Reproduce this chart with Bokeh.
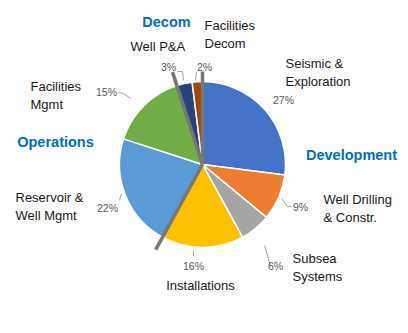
import math
from bokeh.plotting import figure
from bokeh.models import Range1d
from bokeh.embed import file_html
from bokeh.resources import INLINE
from bokeh.core.properties import value

# ---- data ----
categories = ["Seismic & Exploration", "Well Drilling & Constr.", "Subsea Systems",
              "Installations", "Reservoir & Well Mgmt", "Facilities Mgmt",
              "Well P&A", "Facilities Decom"]
label_lines = [["Seismic &", "Exploration"], ["Well Drilling", "& Constr."], ["Subsea", "Systems"],
               ["Installations"], ["Reservoir &", "Well Mgmt"], ["Facilities", "Mgmt"],
               ["Well P&A"], ["Facilities", "Decom"]]
values = [27, 9, 6, 16, 22, 15, 3, 2]
groups = ["Development", "Development", "Development", "Development",
          "Operations", "Operations", "Decom", "Decom"]
group_names = ["Development", "Operations", "Decom"]
colors = ["#4472C4", "#ED7D31", "#A5A5A5", "#FFC000", "#5B9BD5", "#70AD47", "#264478", "#9E480E"]

# ---- layout ----
W, H = 408, 333
CX, CY, R = 202, 164, 83

def P(x, y):
    return x, H - y

p = figure(width=W, height=H, output_backend="svg", toolbar_location=None,
           x_range=Range1d(0, W), y_range=Range1d(0, H), min_border=0)
p.axis.visible = False
p.grid.visible = False
p.outline_line_color = None
p.background_fill_color = "white"

total = sum(values)
cum = [0]
for v in values:
    cum.append(cum[-1] + v)

cx, cy = P(CX, CY)
starts = [math.pi / 2 - 2 * math.pi * cum[i + 1] / total for i in range(len(values))]
ends = [math.pi / 2 - 2 * math.pi * cum[i] / total for i in range(len(values))]
p.wedge(x=[cx] * len(values), y=[cy] * len(values), radius=R,
        start_angle=starts, end_angle=ends, fill_color=colors,
        line_color="white", line_width=1.5)

# group separators
bounds = []
for i in range(len(values)):
    if groups[i] != groups[i - 1]:
        bounds.append(cum[i])
sx0, sy0, sx1, sy1 = [], [], [], []
for b in bounds:
    a = math.pi / 2 - 2 * math.pi * b / total
    L = R * (1.17 if b > 50 else 1.12)
    sx0.append(cx); sy0.append(cy)
    sx1.append(cx + L * math.cos(a)); sy1.append(cy + L * math.sin(a))
p.segment(x0=sx0, y0=sy0, x1=sx1, y1=sy1, line_color="#767676", line_width=3.5, line_cap="butt")

# percent label positions (pixel coords, center)
pct_pos = [(283, 99), (300, 206), (275, 265), (193, 265), (107, 207), (106, 91), (168, 66), (204, 66)]
leaders = [None, [(281, 198), (287, 206), (291, 206)], [(264, 245), (270, 265), (272, 265)],
           [(193, 250), (193, 256)], [(119, 200), (121, 193)], [(118, 92), (123, 93), (130, 98)],
           [(177, 71), (182, 71), (183, 80)], [(196, 71), (195, 80)]]
for lp in leaders:
    if lp:
        pts = [P(x, y) for x, y in lp]
        p.line(x=[q[0] for q in pts], y=[q[1] for q in pts], line_color="#A6A6A6", line_width=1)

px = [P(x, y)[0] for x, y in pct_pos]
py = [P(x, y)[1] for x, y in pct_pos]
p.text(x=px, y=py, text=[f"{v}%" for v in values], text_align="center", text_baseline="middle",
       text_font=value("Liberation Sans"), text_font_size="10.5px", text_color="#595959")

# category names (left x, first line center y, line height)
name_pos = [(285, 63), (323, 199), (292, 258), (200, 285), (15, 197), (30, 86), (130, 46), (204, 25)]
aligns = ["left", "left", "left", "center", "left", "left", "left", "left"]
line_h = 18
for lines, (x, y), al in zip(label_lines, name_pos, aligns):
    for k, t in enumerate(lines):
        xx, yy = P(x, y + k * line_h)
        p.text(x=[xx], y=[yy], text=[t], text_align=al, text_baseline="middle",
               text_font=value("Liberation Sans"), text_font_size="13px", text_color="#1a1a1a")

# group names
group_pos = {"Development": (351, 154), "Operations": (55, 141), "Decom": (166, 21)}
for g in group_names:
    xx, yy = P(*group_pos[g])
    p.text(x=[xx], y=[yy], text=[g], text_align="center", text_baseline="middle",
           text_font=value("Liberation Sans"), text_font_size="14.5px", text_font_style="bold",
           text_color="#0070C0")

open("out.html", "w").write(file_html(p, INLINE))
